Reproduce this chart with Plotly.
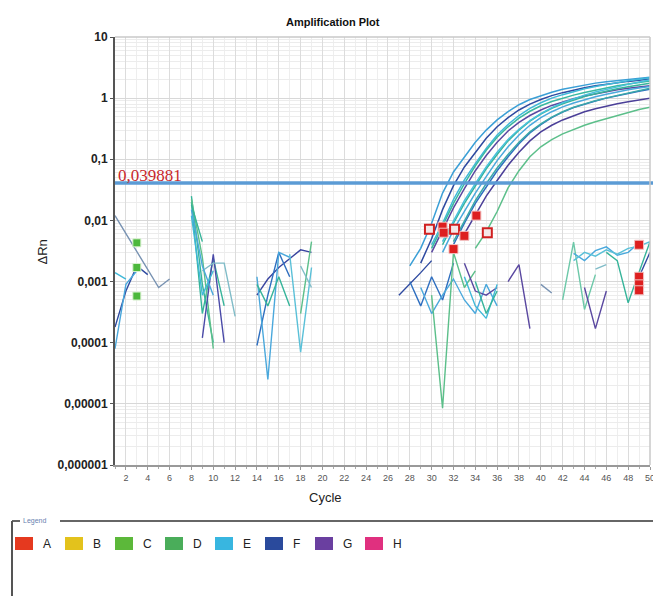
import math
import plotly.graph_objects as go

N = None

# ---------------- data ----------------
cycles_amp = list(range(28, 51))

amp_w01 = [0.0018, 0.0035, 0.009, 0.028, 0.062, 0.11, 0.19, 0.30, 0.44, 0.60, 0.78, 0.95, 1.10, 1.25, 1.40, 1.52, 1.65, 1.76, 1.86, 1.95, 2.03, 2.12, 2.20]
amp_w02 = [N, 0.002, 0.005, 0.015, 0.037, 0.075, 0.13, 0.22, 0.34, 0.48, 0.64, 0.80, 0.95, 1.10, 1.23, 1.36, 1.48, 1.60, 1.70, 1.80, 1.88, 1.96, 2.05]
amp_w03 = [N, N, 0.004, 0.009, 0.022, 0.046, 0.085, 0.15, 0.25, 0.37, 0.52, 0.68, 0.84, 1.00, 1.14, 1.28, 1.42, 1.55, 1.68, 1.80, 1.92, 2.04, 2.15]
amp_w04 = [N, N, 0.003, 0.007, 0.016, 0.033, 0.065, 0.115, 0.19, 0.29, 0.40, 0.52, 0.64, 0.76, 0.87, 0.98, 1.08, 1.18, 1.28, 1.37, 1.45, 1.53, 1.60]
amp_w05 = [N, N, N, 0.004, 0.009, 0.019, 0.037, 0.07, 0.12, 0.20, 0.30, 0.42, 0.55, 0.68, 0.81, 0.94, 1.06, 1.18, 1.30, 1.42, 1.53, 1.64, 1.75]
amp_w06 = [N, N, N, 0.003, 0.007, 0.014, 0.028, 0.052, 0.095, 0.16, 0.25, 0.36, 0.48, 0.60, 0.72, 0.83, 0.94, 1.05, 1.16, 1.27, 1.37, 1.46, 1.55]
amp_w07 = [N, N, N, N, 0.004, 0.009, 0.019, 0.036, 0.065, 0.11, 0.18, 0.27, 0.37, 0.48, 0.59, 0.70, 0.80, 0.90, 1.00, 1.10, 1.20, 1.30, 1.40]
amp_w08 = [N, N, N, N, N, 0.006, 0.012, 0.025, 0.045, 0.08, 0.13, 0.20, 0.28, 0.36, 0.44, 0.52, 0.60, 0.67, 0.74, 0.81, 0.87, 0.94, 1.00]
amp_w09 = [N, N, N, N, N, N, 0.0035, 0.0065, 0.014, 0.034, 0.065, 0.11, 0.16, 0.21, 0.26, 0.31, 0.36, 0.41, 0.46, 0.52, 0.58, 0.65, 0.71]
amp_w10 = [N, N, 0.0035, 0.008, 0.019, 0.04, 0.078, 0.14, 0.23, 0.34, 0.47, 0.61, 0.75, 0.88, 1.00, 1.12, 1.24, 1.36, 1.48, 1.59, 1.70, 1.80, 1.90]
amp_w11 = [N, N, N, 0.0045, 0.010, 0.021, 0.040, 0.075, 0.13, 0.21, 0.31, 0.43, 0.56, 0.70, 0.84, 0.98, 1.12, 1.26, 1.40, 1.54, 1.68, 1.84, 2.00]
amp_w12 = [N, N, N, N, 0.0045, 0.010, 0.021, 0.040, 0.072, 0.12, 0.19, 0.28, 0.38, 0.49, 0.60, 0.71, 0.81, 0.91, 1.01, 1.11, 1.21, 1.33, 1.45]

# baseline noise fragments (cycle, dRn)
frag01_x = [1, 2, 3, 4, 5, 6];        frag01_y = [0.012, 0.0061, 0.0031, 0.0016, 0.0008, 0.0011]
frag02_x = [1, 2, 3, 4];              frag02_y = [0.00018, 0.0007, 0.0018, 0.0013]
frag03_x = [1, 2];                    frag03_y = [0.0014, 0.0011]
frag04_x = [1, 2, 3];                 frag04_y = [0.00008, 0.0009, 0.0015]
frag05_x = [8, 9, 10];                frag05_y = [0.025, 0.0009, 0.0001]
frag06_x = [8, 9, 10, 11];            frag06_y = [0.02, 0.0003, 0.0024, 0.0004]
frag07_x = [8, 9, 10];                frag07_y = [0.022, 0.0025, 0.00008]
frag08_x = [9, 10, 11];               frag08_y = [0.00012, 0.0028, 0.0001]
frag09_x = [9, 10, 11, 12];           frag09_y = [0.0015, 0.002, 0.002, 0.00027]
frag10_x = [8, 9, 10];                frag10_y = [0.015, 0.0018, 0.0006]
frag11_x = [8, 9];                    frag11_y = [0.018, 0.0045]
frag12_x = [8, 9, 10];                frag12_y = [0.012, 0.0006, 0.0015]
frag13_x = [14, 15, 16, 17, 18, 19];  frag13_y = [0.0006, 0.0011, 0.0017, 0.0024, 0.0033, 0.003]
frag14_x = [14, 15, 16, 17];          frag14_y = [0.00009, 0.0006, 0.003, 0.0012]
frag15_x = [14, 15, 16, 17];          frag15_y = [0.0012, 0.000025, 0.003, 0.0025]
frag16_x = [14, 15, 16, 17];          frag16_y = [0.0009, 0.0004, 0.0012, 0.0004]
frag17_x = [17, 18, 19];              frag17_y = [0.0028, 0.00007, 0.0017]
frag18_x = [18, 19];                  frag18_y = [0.0003, 0.0045]
frag19_x = [18, 19];                  frag19_y = [0.0018, 0.0008]
frag20_x = [27, 28, 29, 30];          frag20_y = [0.0006, 0.0009, 0.0014, 0.0022]
frag21_x = [28, 29, 30, 31, 32];      frag21_y = [0.001, 0.0004, 0.0012, 0.0005, 0.002]
frag22_x = [29, 30, 31, 32, 33, 34, 35, 36]; frag22_y = [0.0008, 0.0003, 0.0006, 0.0011, 0.0005, 0.0003, 0.0009, 0.0004]
frag23_x = [30, 31, 32, 33, 34];      frag23_y = [0.0006, 0.0000085, 0.003, 0.0008, 0.0015]
frag24_x = [33, 34, 35, 36];          frag24_y = [0.002, 0.0007, 0.0006, 0.0008]
frag25_x = [33, 34, 35, 36];          frag25_y = [0.0012, 0.0004, 0.00025, 0.0009]
frag26_x = [34, 35, 36];              frag26_y = [0.001, 0.0003, 0.0007]
frag27_x = [37, 38, 39];              frag27_y = [0.001, 0.0019, 0.00017]
frag28_x = [40, 41];                  frag28_y = [0.0009, 0.00065]
frag29_x = [42, 43, 44, 45];          frag29_y = [0.0005, 0.0044, 0.00035, 0.0013]
frag30_x = [43, 44, 45, 46, 47, 48, 49]; frag30_y = [0.0029, 0.0022, 0.0032, 0.0037, 0.0027, 0.003, 0.0043]
frag31_x = [43, 44, 45, 46, 47, 48, 49, 50]; frag31_y = [0.0022, 0.003, 0.0026, 0.0033, 0.0028, 0.0035, 0.0038, 0.0045]
frag32_x = [44, 45, 46];              frag32_y = [0.0008, 0.00017, 0.0007]
frag33_x = [46, 47, 48, 49, 50];      frag33_y = [0.003, 0.0022, 0.00045, 0.0014, 0.0045]
frag34_x = [49, 50];                  frag34_y = [0.0012, 0.003]
frag35_x = [45, 46];                  frag35_y = [0.0016, 0.0019]

# Ct markers
ct_cycles = [31.0, 31.1, 33.0, 34.1, 32.0, 49, 49, 49, 49]
ct_values = [0.0079, 0.0063, 0.0056, 0.012, 0.0034, 0.004, 0.0012, 0.0009, 0.00072]
ct_open_cycles = [29.8, 32.1, 35.1]
ct_open_values = [0.0072, 0.0072, 0.0063]
ref_cycles = [3, 3, 3]
ref_values = [0.0043, 0.0017, 0.00058]

threshold = 0.039881
threshold_label = "0,039881"

y_tick_vals = [10, 1, 0.1, 0.01, 0.001, 0.0001, 0.00001, 0.000001]
y_tick_text = ["10", "1", "0,1", "0,01", "0,001", "0,0001", "0,00001", "0,000001"]

legend_labels = ["A", "B", "C", "D", "E", "F", "G", "H"]
legend_colors = ["#e5391f", "#e3c21c", "#5cb83a", "#4aad5a", "#38b6e0", "#2a4a9c", "#6a3fa0", "#e0307f"]

# ---------------- styling ----------------
TEAL = "#36b49a"; GREEN = "#5cbf8a"; CYAN = "#3fb8d8"; LBLUE = "#4aa8dc"
STEEL = "#2f6fc0"; NAVY = "#2e4aa0"; PURPLE = "#5a48a0"; GRAYB = "#7892b2"; GCYAN = "#80bcc8"

amp_series = [
    (amp_w01, "#3a9fd6"), (amp_w02, NAVY), (amp_w03, CYAN), (amp_w04, PURPLE),
    (amp_w05, TEAL), (amp_w06, LBLUE), (amp_w07, STEEL), (amp_w08, "#4b3f98"),
    (amp_w09, GREEN), (amp_w10, "#38b8a0"), (amp_w11, "#48c0dc"), (amp_w12, "#3aa8a8"),
]
frag_series = [
    (frag01_x, frag01_y, GRAYB), (frag02_x, frag02_y, NAVY), (frag03_x, frag03_y, CYAN),
    (frag04_x, frag04_y, LBLUE), (frag05_x, frag05_y, TEAL), (frag06_x, frag06_y, TEAL),
    (frag07_x, frag07_y, GREEN), (frag08_x, frag08_y, "#4a4aa8"), (frag09_x, frag09_y, GCYAN),
    (frag10_x, frag10_y, LBLUE), (frag11_x, frag11_y, TEAL), (frag12_x, frag12_y, CYAN),
    (frag13_x, frag13_y, "#3a45a0"), (frag14_x, frag14_y, STEEL), (frag15_x, frag15_y, LBLUE),
    (frag16_x, frag16_y, TEAL), (frag17_x, frag17_y, "#5ac0d8"), (frag18_x, frag18_y, GREEN),
    (frag19_x, frag19_y, GCYAN), (frag20_x, frag20_y, NAVY), (frag21_x, frag21_y, STEEL),
    (frag22_x, frag22_y, LBLUE), (frag23_x, frag23_y, GREEN), (frag24_x, frag24_y, PURPLE),
    (frag25_x, frag25_y, CYAN), (frag26_x, frag26_y, TEAL), (frag27_x, frag27_y, PURPLE),
    (frag28_x, frag28_y, GRAYB), (frag29_x, frag29_y, "#6cc8a8"), (frag30_x, frag30_y, LBLUE),
    (frag31_x, frag31_y, "#5ac0d8"), (frag32_x, frag32_y, PURPLE), (frag33_x, frag33_y, TEAL),
    (frag34_x, frag34_y, NAVY), (frag35_x, frag35_y, GCYAN),
]

W, H = 653, 596
L, R, T, B = 115, 650, 37, 465   # plot area in pixels


def px(xp):
    return (xp - L) / (R - L)


def py(yp):
    return (B - yp) / (B - T)


FONT = "Arial, Liberation Sans, sans-serif"

fig = go.Figure()

for xs, ys, col in frag_series:
    fig.add_trace(go.Scatter(x=xs, y=ys, mode="lines", line=dict(color=col, width=1.4),
                             showlegend=False, hoverinfo="skip"))

for ys, col in amp_series:
    fig.add_trace(go.Scatter(x=cycles_amp, y=ys, mode="lines", line=dict(color=col, width=1.5),
                             connectgaps=False, showlegend=False))

fig.add_trace(go.Scatter(x=ref_cycles, y=ref_values, mode="markers", showlegend=False,
                         marker=dict(symbol="square", size=8, color="#4cb83c",
                                     line=dict(color="#d8f0d0", width=1))))
fig.add_trace(go.Scatter(x=ct_open_cycles, y=ct_open_values, mode="markers", showlegend=False,
                         marker=dict(symbol="square", size=9, color="#f4e8e8",
                                     line=dict(color="#d02020", width=2))))
fig.add_trace(go.Scatter(x=ct_cycles, y=ct_values, mode="markers", showlegend=False,
                         marker=dict(symbol="square", size=9, color="#dd1f1f",
                                     line=dict(color="#f2c0c0", width=1))))

shapes = [
    # threshold line across the whole plot width
    dict(type="line", xref="paper", yref="paper", x0=0, x1=px(653),
         y0=py(183), y1=py(183), line=dict(color="#5b9bd5", width=3.5)),
    # top & right border of plot
    dict(type="line", xref="paper", yref="paper", x0=0, x1=1, y0=1, y1=1,
         line=dict(color="#c8c8c8", width=1.5)),
    dict(type="line", xref="paper", yref="paper", x0=1, x1=1, y0=0, y1=1,
         line=dict(color="#c8c8c8", width=1.5)),
    # legend frame
    dict(type="line", xref="paper", yref="paper", x0=px(12), x1=px(20), y0=py(521), y1=py(521),
         line=dict(color="#666666", width=2)),
    dict(type="line", xref="paper", yref="paper", x0=px(60), x1=px(653), y0=py(521), y1=py(521),
         line=dict(color="#666666", width=2)),
    dict(type="line", xref="paper", yref="paper", x0=px(12), x1=px(12), y0=py(521), y1=py(596),
         line=dict(color="#555555", width=2)),
]

annotations = [
    dict(text="<b>Amplification Plot</b>", x=px(333), y=py(22), xref="paper", yref="paper",
         yanchor="middle", showarrow=False, font=dict(family=FONT, size=11, color="#111111")),
    dict(text="Cycle", x=px(325), y=py(497), xref="paper", yref="paper", yanchor="middle",
         showarrow=False, font=dict(family=FONT, size=13, color="#222222")),
    dict(text="ΔRn", x=px(33), y=py(252), xref="paper", yref="paper", yanchor="middle",
         showarrow=False, textangle=-90, font=dict(family=FONT, size=13, color="#222222")),
    dict(text=threshold_label, x=px(116), xref="paper", y=math.log10(threshold), yref="y",
         xanchor="left", yanchor="bottom", yshift=-3, showarrow=False,
         font=dict(family="Liberation Serif, DejaVu Serif, serif", size=17, color="#c8282c")),
    dict(text="Legend", x=px(21), y=py(521), xref="paper", yref="paper", xanchor="left",
         yanchor="middle", showarrow=False, font=dict(family=FONT, size=7, color="#6a7fb0")),
]

for i, (lab, col) in enumerate(zip(legend_labels, legend_colors)):
    x0 = 15 + 50 * i
    shapes.append(dict(type="rect", xref="paper", yref="paper", x0=px(x0), x1=px(x0 + 18),
                       y0=py(550), y1=py(537), fillcolor=col, line=dict(width=0)))
    annotations.append(dict(text=lab, x=px(x0 + 26), y=py(544), xref="paper", yref="paper",
                            xanchor="left", yanchor="middle", showarrow=False,
                            font=dict(family=FONT, size=12, color="#222222")))

fig.update_layout(
    width=W, height=H,
    margin=dict(l=L, r=W - R, t=T, b=H - B, autoexpand=False),
    paper_bgcolor="white", plot_bgcolor="white",
    showlegend=False,
    shapes=shapes, annotations=annotations,
    xaxis=dict(range=[1, 50], tick0=0, dtick=2, showgrid=True, gridcolor="#dcdcdc", gridwidth=1,
               automargin=False, ticklabeloverflow="allow",
               minor=dict(dtick=1, showgrid=True, gridcolor="#eeeeee", ticks="outside", ticklen=2,
                          tickcolor="#aaaaaa"),
               showline=True, linecolor="#999999", linewidth=1.5, ticks="outside", ticklen=3,
               tickcolor="#999999", zeroline=False,
               tickfont=dict(family=FONT, size=9, color="#555555")),
    yaxis=dict(type="log", range=[-6, 1], tickmode="array", tickvals=y_tick_vals,
               ticktext=["<b>%s</b>" % t for t in y_tick_text], automargin=False,
               showgrid=True, gridcolor="#d8d8d8", gridwidth=1,
               minor=dict(dtick="D1", showgrid=True, gridcolor="#ececec"),
               showline=True, linecolor="#555555", linewidth=2, ticks="outside", ticklen=3,
               tickcolor="#555555", zeroline=False,
               tickfont=dict(family=FONT, size=12, color="#222222")),
)

# remove the browser's default 8px page margin so the figure sits at the window origin
fig.write_html("out.html", config={"displayModeBar": False},
               post_script="document.body.style.margin='0';document.body.style.overflow='hidden';")
